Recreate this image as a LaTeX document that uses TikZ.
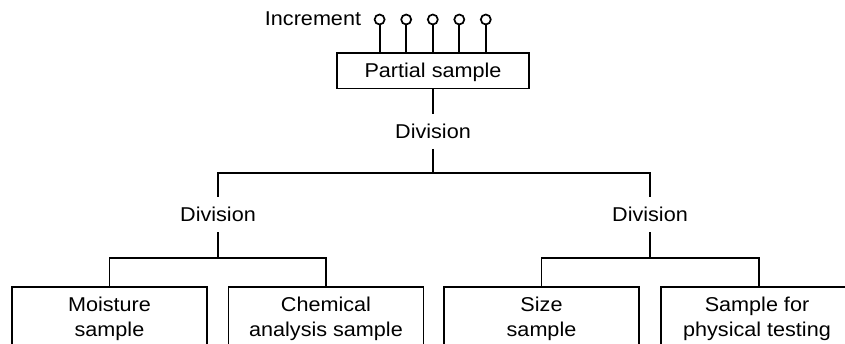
\documentclass[tikz,border=0pt]{standalone}
\usepackage{fontspec}
\setmainfont{Liberation Sans}[FakeStretch=1.08]
\begin{document}
\begin{tikzpicture}[x=1pt,y=-1pt,line width=1.8pt,
  lbl/.style={font=\fontsize{20}{24.5}\selectfont, inner sep=0pt},
  divn/.style={lbl, text height=14.3pt, text depth=0pt, inner ysep=9.5pt},
  topbox/.style={draw, lbl, minimum width=192pt, minimum height=35.5pt, text height=14.3pt, text depth=0pt},
  sbox/.style={draw, lbl, align=center, anchor=north, minimum width=195pt, minimum height=64pt},
  incr/.style={draw, circle, minimum size=10pt, inner sep=0pt, line width=1.7pt}]
\useasboundingbox (0,0) rectangle (845,344);
\clip (0,0) rectangle (845,344);
% top
\node[lbl, anchor=base] (inc) at (313,26) {Increment};
\node[topbox] (ps) at (433,70.7) {Partial sample};
\foreach \i/\x in {1/379.6,2/406.2,3/432.8,4/459.3,5/485.8}{
  \node[incr] (c\i) at (\x,19.5) {};
  \draw (c\i.south) -- (c\i.south |- ps.north);
}
\node[divn] (div1) at (433,131.35) {Division};
\draw (ps.south) -- (div1.north);
\coordinate (j1) at (433,173.3);
\draw (div1.south) -- (j1);
% second level
\node[divn] (divL) at (218,214.55) {Division};
\node[divn] (divR) at (650,214.55) {Division};
\draw (divL.north) |- (j1) -| (divR.north);
% bottom boxes
\node[sbox] (moist) at (109.5,286) {Moisture\\sample};
\node[sbox] (chem) at (326,286) {Chemical\\analysis sample};
\node[sbox] (size) at (541.5,286) {Size\\sample};
\node[sbox, minimum width=192pt] (phys) at (757,286) {Sample for\\physical testing};
\coordinate (jL) at (218,258.3);
\coordinate (jR) at (650,258.3);
\draw (divL.south) -- (jL);
\draw (divR.south) -- (jR);
\draw (moist.north) |- (jL) -| (chem.north);
\draw (size.north) |- (jR) -| ([xshift=2pt]phys.north);
\end{tikzpicture}
\end{document}
